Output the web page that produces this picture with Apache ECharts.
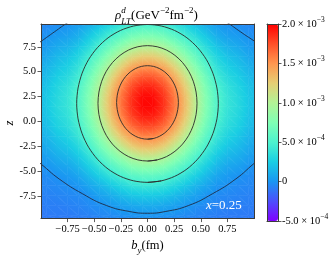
<!DOCTYPE html>
<html><head><meta charset="utf-8">
<script src="https://cdn.jsdelivr.net/npm/echarts@6/dist/echarts.min.js"></script>
<style>html,body{margin:0;padding:0;background:#fff}#c{width:335px;height:260px}</style>
</head><body><div id="c"></div>
<script>
// sample points of the density (b_y in fm, z)
const xNodes = [-1.0,-0.95,-0.85,-0.75,-0.65,-0.55,-0.45,-0.35,-0.25,-0.15,-0.05,0.05,0.15,0.25,0.35,0.45,0.55,0.65,0.75,0.85,0.95,1.0];
const zNodes = [9.8,9.5,8.5,7.5,6.5,5.5,4.5,3.5,2.5,1.5,0.5,-0.5,-1.5,-2.5,-3.5,-4.5,-5.5,-6.5,-7.5,-8.5,-9.5,-9.8];
// rho_LT^d in units of 1e-3 GeV^-2 fm^-2; one row per zNodes entry, one column per xNodes entry
const rho = [
[-0.05,-0.05,-0.03,-0.02,0.01,0.08,0.16,0.25,0.33,0.40,0.44,0.44,0.40,0.33,0.25,0.16,0.08,0.01,-0.02,-0.03,-0.05,-0.05],
[-0.04,-0.04,-0.02,0.00,0.05,0.13,0.22,0.32,0.42,0.50,0.54,0.54,0.50,0.42,0.32,0.22,0.13,0.05,0.00,-0.02,-0.04,-0.04],
[-0.02,-0.01,0.03,0.06,0.12,0.23,0.35,0.48,0.60,0.71,0.76,0.76,0.71,0.60,0.48,0.35,0.23,0.12,0.06,0.03,-0.01,-0.02],
[0.01,0.03,0.09,0.13,0.21,0.33,0.49,0.65,0.81,0.94,1.01,1.01,0.94,0.81,0.65,0.49,0.33,0.21,0.13,0.09,0.03,0.01],
[0.06,0.08,0.15,0.20,0.29,0.45,0.63,0.83,1.02,1.18,1.26,1.26,1.18,1.02,0.83,0.63,0.45,0.29,0.20,0.15,0.08,0.06],
[0.10,0.13,0.20,0.26,0.37,0.55,0.77,1.00,1.22,1.41,1.50,1.50,1.41,1.22,1.00,0.77,0.55,0.37,0.26,0.20,0.13,0.10],
[0.14,0.17,0.25,0.32,0.44,0.65,0.89,1.15,1.40,1.61,1.72,1.72,1.61,1.40,1.15,0.89,0.65,0.44,0.32,0.25,0.17,0.14],
[0.17,0.20,0.29,0.37,0.50,0.72,0.98,1.26,1.53,1.76,1.88,1.88,1.76,1.53,1.26,0.98,0.72,0.50,0.37,0.29,0.20,0.17],
[0.18,0.22,0.31,0.39,0.53,0.76,1.03,1.33,1.61,1.84,1.97,1.97,1.84,1.61,1.33,1.03,0.76,0.53,0.39,0.31,0.22,0.18],
[0.18,0.22,0.32,0.39,0.53,0.76,1.04,1.34,1.62,1.85,1.98,1.98,1.85,1.62,1.34,1.04,0.76,0.53,0.39,0.32,0.22,0.18],
[0.17,0.20,0.30,0.37,0.51,0.73,1.00,1.29,1.56,1.79,1.91,1.91,1.79,1.56,1.29,1.00,0.73,0.51,0.37,0.30,0.20,0.17],
[0.15,0.18,0.27,0.34,0.46,0.67,0.92,1.19,1.45,1.66,1.77,1.77,1.66,1.45,1.19,0.92,0.67,0.46,0.34,0.27,0.18,0.15],
[0.11,0.14,0.22,0.28,0.40,0.58,0.81,1.05,1.28,1.47,1.57,1.57,1.47,1.28,1.05,0.81,0.58,0.40,0.28,0.22,0.14,0.11],
[0.07,0.10,0.17,0.22,0.32,0.48,0.68,0.88,1.08,1.25,1.34,1.34,1.25,1.08,0.88,0.68,0.48,0.32,0.22,0.17,0.10,0.07],
[0.03,0.05,0.11,0.15,0.23,0.37,0.53,0.71,0.87,1.01,1.09,1.09,1.01,0.87,0.71,0.53,0.37,0.23,0.15,0.11,0.05,0.03],
[-0.01,0.00,0.05,0.08,0.15,0.26,0.39,0.53,0.66,0.78,0.83,0.83,0.78,0.66,0.53,0.39,0.26,0.15,0.08,0.05,0.00,-0.01],
[-0.04,-0.03,-0.01,0.02,0.07,0.16,0.26,0.37,0.47,0.56,0.60,0.60,0.56,0.47,0.37,0.26,0.16,0.07,0.02,-0.01,-0.03,-0.04],
[-0.05,-0.05,-0.04,-0.02,0.00,0.07,0.14,0.22,0.30,0.37,0.40,0.40,0.37,0.30,0.22,0.14,0.07,0.00,-0.02,-0.04,-0.05,-0.05],
[-0.07,-0.07,-0.06,-0.05,-0.04,-0.01,0.05,0.10,0.16,0.21,0.23,0.23,0.21,0.16,0.10,0.05,-0.01,-0.04,-0.05,-0.06,-0.07,-0.07],
[-0.09,-0.08,-0.08,-0.07,-0.06,-0.04,-0.02,0.01,0.05,0.08,0.10,0.10,0.08,0.05,0.01,-0.02,-0.04,-0.06,-0.07,-0.08,-0.08,-0.09],
[-0.10,-0.10,-0.09,-0.09,-0.08,-0.07,-0.05,-0.04,-0.02,-0.01,0.00,0.00,-0.01,-0.02,-0.04,-0.05,-0.07,-0.08,-0.09,-0.09,-0.10,-0.10],
[-0.10,-0.10,-0.10,-0.10,-0.09,-0.08,-0.07,-0.05,-0.04,-0.03,-0.02,-0.02,-0.03,-0.04,-0.05,-0.07,-0.08,-0.09,-0.10,-0.10,-0.10,-0.10]
];
// contour lines, [b_y, z]
const contour1 = [[0,-1.8],[0.057,-1.729],[0.111,-1.518],[0.161,-1.177],[0.205,-0.716],[0.241,-0.156],[0.268,0.484],[0.284,1.178],[0.29,1.9],[0.284,2.622],[0.268,3.316],[0.241,3.956],[0.205,4.516],[0.161,4.977],[0.111,5.318],[0.057,5.529],[0,5.6],
  [-0.057,5.529],[-0.111,5.318],[-0.161,4.977],[-0.205,4.516],[-0.241,3.956],[-0.268,3.316],[-0.284,2.622],[-0.29,1.9],[-0.284,1.178],[-0.268,0.484],[-0.241,-0.156],[-0.205,-0.716],[-0.161,-1.177],[-0.111,-1.518],[-0.057,-1.729],[0,-1.8],[0.057,-1.729]];
const contour2 = [[0,-4.0],[0.091,-3.888],[0.178,-3.558],[0.258,-3.021],[0.329,-2.298],[0.387,-1.418],[0.43,-0.413],[0.456,0.676],[0.465,1.81],[0.456,2.944],[0.43,4.033],[0.387,5.038],[0.329,5.918],[0.258,6.641],[0.178,7.178],[0.091,7.508],[0,7.62],
  [-0.091,7.508],[-0.178,7.178],[-0.258,6.641],[-0.329,5.918],[-0.387,5.038],[-0.43,4.033],[-0.456,2.944],[-0.465,1.81],[-0.456,0.676],[-0.43,-0.413],[-0.387,-1.418],[-0.329,-2.298],[-0.258,-3.021],[-0.178,-3.558],[-0.091,-3.888],[0,-4.0],[0.091,-3.888]];
const contour3 = [[0,-6.15],[0.13,-5.997],[0.255,-5.545],[0.37,-4.81],[0.47,-3.821],[0.553,-2.617],[0.614,-1.242],[0.652,0.249],[0.665,1.8],[0.652,3.351],[0.614,4.842],[0.553,6.217],[0.47,7.421],[0.37,8.41],[0.255,9.145],[0.13,9.597],[0,9.75],
  [-0.13,9.597],[-0.255,9.145],[-0.37,8.41],[-0.47,7.421],[-0.553,6.217],[-0.614,4.842],[-0.652,3.351],[-0.665,1.8],[-0.652,0.249],[-0.614,-1.242],[-0.553,-2.617],[-0.47,-3.821],[-0.37,-4.81],[-0.255,-5.545],[-0.13,-5.997],[0,-6.15],[0.13,-5.997]];
const contour4Top = [[-1.05,7.7],[-1.0,8.05],[-0.875,9.0],[-0.74,10.0],[-0.5,11.5],[0,12.3],[0.5,11.5],[0.74,10.0],[0.875,9.0],[1.0,8.1],[1.05,7.75]];
const contour4Bottom = [[-1.05,-3.9],[-1.0,-4.3],[-0.83,-5.8],[-0.61,-7.3],[-0.386,-8.48],[-0.166,-9.09],[0,-9.26],[0.166,-9.09],[0.386,-8.48],[0.61,-7.3],[0.83,-5.8],[1.0,-4.25],[1.05,-3.85]];
const xTicks = [-0.75,-0.5,-0.25,0,0.25,0.5,0.75];
const xTickLabels = ['−0.75','−0.50','−0.25','0.00','0.25','0.50','0.75'];
const zTicks = [-7.5,-5,-2.5,0,2.5,5,7.5];
const zTickLabels = ['-7.5','-5.0','-2.5','0.0','2.5','5.0','7.5'];
const cbTicks = [-0.5,0,0.5,1.0,1.5,2.0];
const cbMant = ['-5.0 × 10','0','5.0 × 10','1.0 × 10','1.5 × 10','2.0 × 10'];
const cbExp = ['−4','','−4','−3','−3','−3'];
const rainbow = ['#8000ff','#4d4ffc','#1a96f2','#1acee3','#4df3ce','#80ffb4','#b3f396','#e6ce74','#ff964f','#ff4f28','#ff0000'];
const VMIN = -0.5, VMAX = 2.0;

const FONT = 'Liberation Serif';
const stopsRGB = rainbow.map(h => [parseInt(h.slice(1,3),16), parseInt(h.slice(3,5),16), parseInt(h.slice(5,7),16)]);
function cmap(v) {
  const n = stopsRGB.length - 1;
  let f = (v - VMIN) / (VMAX - VMIN) * n;
  f = Math.max(0, Math.min(n, f));
  const k = Math.min(Math.floor(f), n - 1), t = f - k;
  const a = stopsRGB[k], b = stopsRGB[k + 1];
  return 'rgb(' + Math.round(a[0] + (b[0] - a[0]) * t) + ',' + Math.round(a[1] + (b[1] - a[1]) * t) + ',' + Math.round(a[2] + (b[2] - a[2]) * t) + ')';
}
// smooth (Gouraud-like) shading of a triangle between its three sample values
function triFill(P, V) {
  const d1x = P[1][0] - P[0][0], d1y = P[1][1] - P[0][1], d2x = P[2][0] - P[0][0], d2y = P[2][1] - P[0][1];
  const dv1 = V[1] - V[0], dv2 = V[2] - V[0];
  const det = d1x * d2y - d1y * d2x;
  const vmin = Math.min(V[0], V[1], V[2]), vmax = Math.max(V[0], V[1], V[2]);
  if (Math.abs(det) < 1e-9 || vmax - vmin < 1e-9) return cmap(V[0]);
  const gx = (dv1 * d2y - dv2 * d1y) / det, gy = (d1x * dv2 - d2x * dv1) / det;
  const g2 = gx * gx + gy * gy;
  if (g2 < 1e-14) return cmap(V[0]);
  const sx = P[0][0] + (vmin - V[0]) * gx / g2, sy = P[0][1] + (vmin - V[0]) * gy / g2;
  const ex = P[0][0] + (vmax - V[0]) * gx / g2, ey = P[0][1] + (vmax - V[0]) * gy / g2;
  const stops = [{offset: 0, color: cmap(vmin)}];
  const step = (VMAX - VMIN) / (stopsRGB.length - 1);
  for (let k = 0; k < stopsRGB.length; k++) {
    const kv = VMIN + k * step;
    if (kv > vmin && kv < vmax) stops.push({offset: (kv - vmin) / (vmax - vmin), color: cmap(kv)});
  }
  stops.push({offset: 1, color: cmap(vmax)});
  return new echarts.graphic.LinearGradient(sx, sy, ex, ey, stops, true);
}
const cells = [];
for (let j = 0; j < zNodes.length - 1; j++)
  for (let i = 0; i < xNodes.length - 1; i++) cells.push([i, j, rho[j][i]]);

const lineBase = {type:'line', xAxisIndex:1, yAxisIndex:1, smooth:0.3, showSymbol:false, symbol:'none',
  silent:true, clip:true, z:5, lineStyle:{color:'#2a2a2a', width:0.9}, animation:false};
const spine = {show:true, onZero:false, lineStyle:{color:'#3a3a3a', width:1}};
const T = {fontFamily:FONT, fontWeight:'normal', color:'#000'};

const chart = echarts.init(document.getElementById('c'), null, {renderer:'canvas'});
chart.setOption({
  animation:false,
  title:{
    left:110, top:1,
    text:'{r|ρ}{d|d}{s|LT}{n|(GeV}{p|−2}{n|fm}{p|−2}{n|)}',
    textStyle:{fontWeight:'normal', rich:{
      r:Object.assign({}, T, {fontStyle:'italic', fontSize:13, lineHeight:20}),
      d:Object.assign({}, T, {fontStyle:'italic', fontSize:9, verticalAlign:'top', width:0}),
      s:Object.assign({}, T, {fontStyle:'italic', fontSize:9, verticalAlign:'bottom'}),
      n:Object.assign({}, T, {fontSize:13, lineHeight:20}),
      p:Object.assign({}, T, {fontSize:9, verticalAlign:'top'})
    }}
  },
  grid:[
    {left:41, top:24, width:213, height:198},
    {left:267, top:24, width:11, height:197}
  ],
  xAxis:[
    {type:'category', gridIndex:0, data:xNodes, show:false},
    {type:'value', gridIndex:0, min:-1, max:1, position:'bottom', z:10,
      axisLine:spine, splitLine:{show:false},
      axisTick:{show:true, customValues:xTicks, length:3.5, lineStyle:{color:'#333', width:0.8}},
      axisLabel:Object.assign({customValues:xTicks, margin:5, fontSize:10.5,
        formatter:v => xTickLabels[xTicks.indexOf(v)]}, T),
      name:'{i|b}{s|y}{n|(fm)}', nameLocation:'middle', nameGap:18,
      nameTextStyle:{rich:{
        i:Object.assign({}, T, {fontStyle:'italic', fontSize:12.5, lineHeight:18}),
        s:Object.assign({}, T, {fontStyle:'italic', fontSize:9, verticalAlign:'bottom'}),
        n:Object.assign({}, T, {fontSize:12.5, lineHeight:18})
      }}},
    {type:'value', gridIndex:0, min:-1, max:1, position:'top', z:10, axisLine:spine,
      axisTick:{show:false}, axisLabel:{show:false}, splitLine:{show:false}},
    {type:'value', gridIndex:1, min:0, max:1, position:'bottom', z:10, axisLine:spine,
      axisTick:{show:false}, axisLabel:{show:false}, splitLine:{show:false}},
    {type:'value', gridIndex:1, min:0, max:1, position:'top', z:10, axisLine:spine,
      axisTick:{show:false}, axisLabel:{show:false}, splitLine:{show:false}}
  ],
  yAxis:[
    {type:'category', gridIndex:0, data:zNodes, inverse:true, show:false},
    {type:'value', gridIndex:0, min:-9.8, max:9.8, position:'left', z:10,
      axisLine:spine, splitLine:{show:false},
      axisTick:{show:true, customValues:zTicks, length:3.5, lineStyle:{color:'#333', width:0.8}},
      axisLabel:Object.assign({customValues:zTicks, margin:5, fontSize:10.5,
        formatter:v => zTickLabels[zTicks.indexOf(v)]}, T)},
    {type:'value', gridIndex:0, min:-9.8, max:9.8, position:'right', z:10, axisLine:spine,
      axisTick:{show:false}, axisLabel:{show:false}, splitLine:{show:false}},
    {type:'value', gridIndex:1, min:-0.5, max:2.0, interval:0.5, position:'right', z:10,
      axisLine:spine, splitLine:{show:false},
      axisTick:{show:true, length:3.5, lineStyle:{color:'#333', width:0.8}},
      axisLabel:{margin:4, color:'#000',
        formatter:v => { const k = cbTicks.findIndex(t => Math.abs(t - v) < 1e-9);
          return cbExp[k] ? '{m|' + cbMant[k] + '}{e|' + cbExp[k] + '}' : '{m|' + cbMant[k] + '}'; },
        rich:{
          m:Object.assign({}, T, {fontSize:10.5, lineHeight:16}),
          e:Object.assign({}, T, {fontSize:7.5, verticalAlign:'top'})
        }}},
    {type:'value', gridIndex:1, min:-0.5, max:2.0, position:'left', z:10, axisLine:spine,
      axisTick:{show:false}, axisLabel:{show:false}, splitLine:{show:false}}
  ],
  visualMap:{
    type:'continuous', seriesIndex:0, dimension:2, min:VMIN, max:VMAX, calculable:false,
    inRange:{color:rainbow}, left:267, top:24, itemWidth:11, itemHeight:197,
    padding:0, orient:'vertical', z:1
  },
  graphic:[{
    type:'text', left:206, top:199, z:20, silent:true,
    style:{text:'{i|x}{n|=0.25}', fill:'#fff', rich:{
      i:{fontFamily:FONT, fontStyle:'italic', fontSize:13, fill:'#fff'},
      n:{fontFamily:FONT, fontSize:13, fill:'#fff'}
    }}
  }, {
    type:'text', x:10, y:123, rotation:Math.PI / 2, z:20, silent:true,
    style:{text:'z', fill:'#000', font:'italic 12.5px "Liberation Serif"', align:'center', verticalAlign:'middle'}
  }],
  series:[
    {type:'custom', coordinateSystem:'cartesian2d', xAxisIndex:1, yAxisIndex:1, data:cells,
      silent:true, clip:true, z:1,
      renderItem:(params, api) => {
        const i = api.value(0), j = api.value(1);
        const c = (ii, jj) => api.coord([xNodes[ii], zNodes[jj]]);
        const p00 = c(i, j), p10 = c(i + 1, j), p01 = c(i, j + 1), p11 = c(i + 1, j + 1);
        const v00 = rho[j][i], v10 = rho[j][i + 1], v01 = rho[j + 1][i], v11 = rho[j + 1][i + 1];
        const t1 = [p00, p10, p11], t2 = [p00, p11, p01];
        const f1 = triFill(t1, [v00, v10, v11]), f2 = triFill(t2, [v00, v11, v01]);
        return {type:'group', children:[
          {type:'polygon', shape:{points:t1}, style:{fill:f1, stroke:f1, lineWidth:0.6}},
          {type:'polygon', shape:{points:t2}, style:{fill:f2, stroke:f2, lineWidth:0.6}}
        ]};
      }},
    Object.assign({}, lineBase, {data:contour1}),
    Object.assign({}, lineBase, {data:contour2}),
    Object.assign({}, lineBase, {data:contour3}),
    Object.assign({}, lineBase, {data:contour4Top, smooth:0.5, lineStyle:{color:'#1e2a44', width:0.9}}),
    Object.assign({}, lineBase, {data:contour4Bottom, smooth:0.5, lineStyle:{color:'#1e2a44', width:0.9}})
  ]
});
</script></body></html>
